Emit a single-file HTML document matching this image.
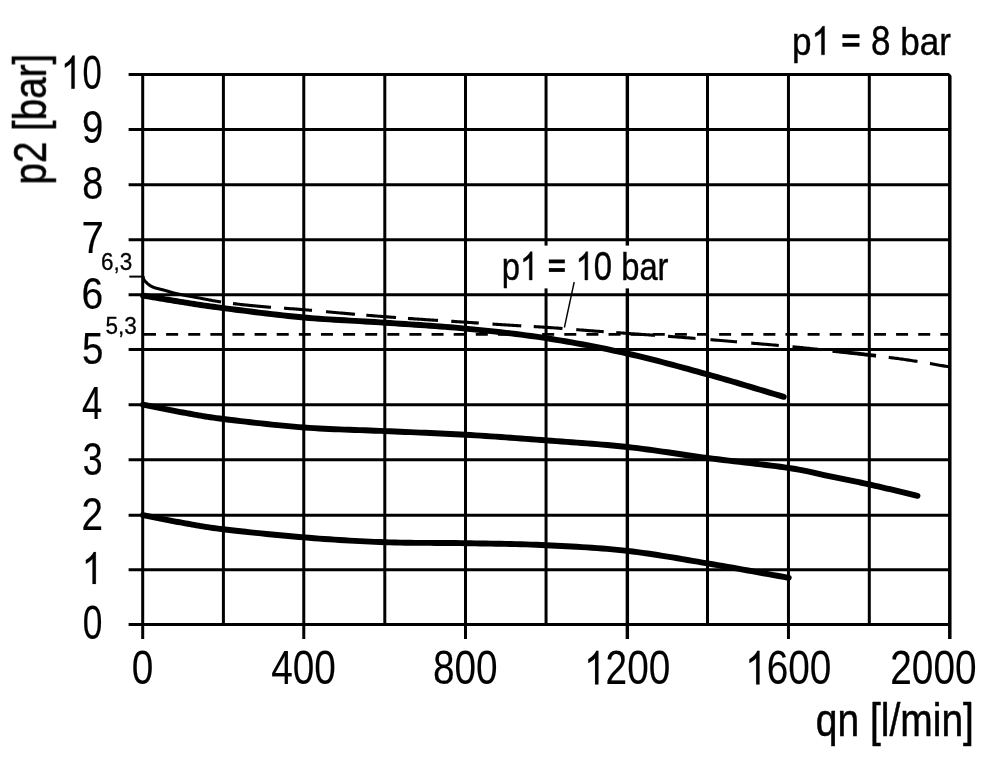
<!DOCTYPE html>
<html><head><meta charset="utf-8"><title>p2 / qn chart</title>
<style>
html,body{margin:0;padding:0;background:#fff;}
body{width:1000px;height:764px;overflow:hidden;font-family:"Liberation Sans",sans-serif;}
svg{display:block;filter:blur(0.45px);}
text{vector-effect:non-scaling-stroke;font-kerning:none;white-space:pre;}
</style></head><body>
<svg width="1000" height="764" viewBox="0 0 1000 764">
<rect width="1000" height="764" fill="#fff"/>
<g stroke="#000" stroke-width="3.0" fill="none" stroke-linecap="butt">
<line x1="142.70" y1="73.00" x2="142.70" y2="639.00" stroke-width="3.0"/>
<line x1="223.40" y1="73.00" x2="223.40" y2="624.55" stroke-width="3.0"/>
<line x1="303.77" y1="73.00" x2="303.77" y2="639.00" stroke-width="3.0"/>
<line x1="384.80" y1="73.00" x2="384.80" y2="624.55" stroke-width="3.0"/>
<line x1="465.50" y1="73.00" x2="465.50" y2="639.00" stroke-width="3.0"/>
<line x1="546.05" y1="73.00" x2="546.05" y2="624.55" stroke-width="3.0"/>
<line x1="627.35" y1="73.00" x2="627.35" y2="639.00" stroke-width="3.4"/>
<line x1="707.50" y1="73.00" x2="707.50" y2="624.55" stroke-width="3.0"/>
<line x1="788.45" y1="73.00" x2="788.45" y2="639.00" stroke-width="3.0"/>
<line x1="869.30" y1="73.00" x2="869.30" y2="624.55" stroke-width="3.0"/>
<line x1="949.80" y1="73.00" x2="949.80" y2="639.00" stroke-width="3.5"/>
<line x1="128.6" y1="624.55" x2="949.80" y2="624.55"/>
<line x1="128.6" y1="569.65" x2="949.80" y2="569.65"/>
<line x1="128.6" y1="515.15" x2="949.80" y2="515.15"/>
<line x1="128.6" y1="459.65" x2="949.80" y2="459.65"/>
<line x1="128.6" y1="404.65" x2="949.80" y2="404.65"/>
<line x1="128.6" y1="349.45" x2="949.80" y2="349.45"/>
<line x1="128.6" y1="294.70" x2="949.80" y2="294.70"/>
<line x1="128.6" y1="239.80" x2="949.80" y2="239.80"/>
<line x1="128.6" y1="184.80" x2="949.80" y2="184.80"/>
<line x1="128.6" y1="129.45" x2="949.80" y2="129.45"/>
<line x1="128.6" y1="74.50" x2="949.80" y2="74.50"/>
</g>
<polygon points="948.20,72.30 952.40,72.30 952.40,76.40" fill="#fff"/>
<line x1="144" y1="334.35" x2="949.80" y2="334.35" stroke="#000" stroke-width="2.8" stroke-dasharray="12 10.12"/>
<line x1="129.3" y1="276.6" x2="143" y2="276.6" stroke="#000" stroke-width="2"/>
<rect id="lblbox" x="499" y="245.6" width="174" height="42.8" fill="#fff"/>
<g stroke="#000" stroke-width="3.1" fill="none" stroke-linecap="butt" stroke-linejoin="round">
<path d="M143.00,276.40 L143.02,276.49 L143.05,276.57 L143.07,276.66 L143.09,276.75 L143.11,276.84 L143.13,276.93 L143.15,277.02 L143.17,277.11 L143.19,277.20 L143.21,277.29 L143.24,277.38 L143.26,277.47 L143.28,277.56 L143.30,277.65 L143.32,277.74 L143.34,277.83 L143.36,277.92 L143.38,278.00 L143.41,278.09 L143.43,278.18 L143.45,278.26 L143.48,278.35 L143.50,278.43 L143.53,278.52 L143.55,278.60 L143.58,278.68 L143.61,278.76 L143.64,278.84 L143.67,278.92 L143.70,279.00 L143.73,279.08 L143.76,279.15 L143.80,279.23 L143.83,279.30 L143.87,279.37 L143.90,279.44 L143.94,279.51 L143.97,279.58 L144.01,279.65 L144.04,279.72 L144.08,279.79 L144.12,279.86 L144.16,279.92 L144.20,279.99 L144.24,280.06 L144.28,280.12 L144.32,280.19 L144.36,280.25 L144.40,280.31 L144.44,280.38 L144.49,280.44 L144.53,280.50 L144.58,280.57 L144.62,280.63 L144.67,280.69 L144.71,280.75 L144.76,280.81 L144.80,280.88 L144.85,280.94 L144.90,281.00 L144.95,281.06 L145.00,281.12 L145.05,281.18 L145.10,281.24 L145.15,281.30 L145.20,281.36 L145.26,281.42 L145.31,281.47 L145.37,281.53 L145.42,281.59 L145.48,281.65 L145.53,281.70 L145.59,281.76 L145.65,281.81 L145.71,281.87 L145.76,281.92 L145.82,281.98 L145.88,282.03 L145.94,282.09 L146.00,282.14 L146.06,282.20 L146.12,282.25 L146.18,282.31 L146.24,282.36 L146.30,282.42 L146.36,282.48 L146.42,282.53 L146.48,282.59 L146.54,282.64 L146.60,282.70 L146.66,282.76 L146.72,282.81 L146.78,282.87 L146.84,282.93 L146.90,282.99 L146.96,283.04 L147.03,283.10 L147.09,283.16 L147.15,283.22 L147.21,283.27 L147.27,283.33 L147.34,283.39 L147.40,283.45 L147.46,283.50 L147.53,283.56 L147.59,283.62 L147.65,283.68 L147.72,283.73 L147.78,283.79 L147.84,283.85 L147.91,283.90 L147.97,283.96 L148.04,284.02 L148.10,284.07 L148.17,284.13 L148.24,284.18 L148.30,284.24 L148.37,284.29 L148.43,284.35 L148.50,284.40 L148.57,284.45 L148.63,284.51 L148.70,284.56 L148.76,284.61 L148.83,284.66 L148.89,284.71 L148.96,284.77 L149.02,284.82 L149.09,284.87 L149.16,284.92 L149.22,284.97 L149.29,285.02 L149.35,285.07 L149.42,285.12 L149.49,285.17 L149.56,285.22 L149.62,285.27 L149.69,285.32 L149.76,285.37 L149.83,285.41 L149.90,285.46 L149.98,285.51 L150.05,285.56 L150.13,285.61 L150.20,285.66 L150.28,285.71 L150.36,285.75 L150.44,285.80 L150.52,285.85 L150.60,285.90 L150.68,285.95 L150.77,286.00 L150.85,286.05 L150.94,286.09 L151.03,286.14 L151.12,286.19 L151.21,286.24 L151.30,286.29 L151.39,286.34 L151.49,286.39 L151.58,286.43 L151.67,286.48 L151.77,286.53 L151.87,286.58 L151.96,286.62 L152.06,286.67 L152.16,286.72 L152.26,286.77 L152.36,286.81 L152.46,286.86 L152.56,286.91 L152.66,286.95 L152.77,287.00 L152.87,287.04 L152.97,287.09 L153.08,287.13 L153.18,287.17 L153.29,287.22 L153.39,287.26 L153.50,287.30 L153.60,287.34 L153.71,287.38 L153.81,287.42 L153.90,287.45 L154.00,287.49 L154.09,287.52 L154.18,287.56 L154.27,287.59 L154.36,287.62 L154.46,287.66 L154.55,287.69 L154.64,287.72 L154.74,287.75 L154.83,287.78 L154.93,287.81 L155.03,287.84 L155.14,287.88 L155.25,287.91 L155.36,287.94 L155.48,287.98 L155.60,288.01 L155.73,288.05 L155.86,288.09 L156.00,288.13 L156.15,288.17 L156.30,288.21 L156.47,288.25 L156.63,288.30 L156.81,288.35 L157.00,288.40 L157.20,288.45 L157.40,288.51 L157.62,288.56 L157.84,288.62 L158.07,288.68 L158.31,288.74 L158.56,288.80 L158.81,288.86 L159.07,288.92 L159.33,288.99 L159.60,289.05 L159.88,289.12 L160.15,289.18 L160.43,289.25 L160.72,289.32 L161.01,289.39 L161.29,289.46 L161.58,289.53 L161.88,289.60 L162.17,289.67 L162.46,289.74 L162.75,289.81 L163.04,289.89 L163.33,289.96 L163.61,290.03 L163.90,290.11 L164.18,290.18 L164.46,290.25 L164.73,290.33 L165.00,290.40 L165.27,290.47 L165.53,290.55 L165.80,290.63 L166.07,290.70 L166.33,290.78 L166.60,290.86 L166.87,290.95 L167.13,291.03 L167.40,291.11 L167.67,291.19 L167.93,291.28 L168.20,291.36 L168.47,291.44 L168.73,291.53 L169.00,291.61 L169.27,291.70 L169.53,291.78 L169.80,291.86 L170.07,291.95 L170.33,292.03 L170.60,292.11 L170.87,292.19 L171.13,292.27 L171.40,292.35 L171.67,292.43 L171.93,292.51 L172.20,292.58 L172.47,292.66 L172.73,292.73 L173.00,292.80 L173.26,292.87 L173.52,292.94 L173.77,293.00 L174.01,293.06 L174.25,293.12 L174.49,293.18 L174.72,293.24 L174.95,293.30 L175.18,293.35 L175.41,293.41 L175.64,293.46 L175.86,293.52 L176.09,293.57 L176.33,293.62 L176.56,293.68 L176.80,293.73 L177.05,293.78 L177.30,293.84 L177.55,293.89 L177.81,293.95 L178.09,294.01 L178.36,294.06 L178.65,294.12 L178.95,294.19 L179.26,294.25 L179.58,294.31 L179.92,294.38 L180.26,294.45 L180.62,294.52 L181.00,294.60 L181.38,294.68 L181.77,294.75 L182.16,294.83 L182.55,294.91 L182.95,294.98 L183.35,295.06 L183.76,295.14 L184.17,295.22 L184.59,295.30 L185.02,295.38 L185.46,295.46 L185.90,295.55 L186.35,295.63 L186.82,295.72 L187.29,295.81 L187.77,295.90 L188.26,295.99 L188.77,296.08 L189.29,296.18 L189.82,296.27 L190.37,296.37 L190.93,296.48 L191.50,296.58 L192.09,296.69 L192.70,296.80 L193.33,296.91 L193.97,297.03 L194.63,297.15 L195.30,297.27 L196.00,297.40 L196.72,297.53 L197.45,297.67 L198.20,297.81 L198.96,297.95 L199.74,298.10 L200.54,298.26 L201.35,298.42 L202.18,298.58 L203.02,298.74 L203.87,298.91 L204.74,299.08 L205.63,299.25 L206.52,299.42 L207.43,299.59 L208.35,299.77 L209.28,299.94 L210.23,300.12 L211.18,300.30 L212.15,300.47 L213.13,300.65 L214.11,300.82 L215.11,301.00 L216.12,301.17 L217.13,301.34 L218.16,301.51 L219.19,301.67 L220.23,301.83 L221.00,301.95"/>
<path d="M233.00,303.56 L233.47,303.61 L234.64,303.76 L235.83,303.90 L237.02,304.04 L238.23,304.17 L239.44,304.31 L240.66,304.45 L241.89,304.59 L243.14,304.72 L244.39,304.86 L245.64,304.99 L246.91,305.12 L248.19,305.25 L249.47,305.38 L250.76,305.51 L252.06,305.64 L253.37,305.77 L254.68,305.90 L256.00,306.03 L257.33,306.15 L258.66,306.28 L260.00,306.40 L261.35,306.52 L262.72,306.64 L264.11,306.76 L265.52,306.88 L266.94,306.99 L268.37,307.10 L269.82,307.22 L271.00,307.31"/>
<path d="M284.00,308.23 L284.75,308.28 L286.26,308.39 L287.77,308.49 L289.28,308.60 L290.79,308.71 L292.29,308.81 L293.78,308.92 L295.27,309.03 L296.75,309.14 L298.23,309.25 L299.69,309.36 L301.14,309.47 L302.58,309.58 L304.00,309.70 L305.41,309.82 L306.82,309.94 L308.23,310.06 L309.62,310.18 L311.02,310.30 L312.00,310.38"/>
<path d="M326.00,311.67 L326.11,311.68 L327.46,311.80 L328.82,311.93 L330.17,312.06 L331.52,312.18 L332.87,312.31 L334.22,312.43 L335.56,312.56 L336.91,312.68 L338.26,312.80 L339.61,312.92 L340.95,313.04 L342.30,313.16 L343.65,313.28 L345.00,313.40 L346.35,313.52 L347.70,313.63 L349.04,313.75 L350.38,313.86 L351.72,313.98 L353.06,314.09 L354.40,314.21 L355.00,314.26"/>
<path d="M366.30,315.20 L366.39,315.21 L367.72,315.32 L369.05,315.43 L370.38,315.54 L371.70,315.64 L373.03,315.75 L374.36,315.86 L375.69,315.97 L377.02,316.07 L378.34,316.18 L379.67,316.28 L381.00,316.39 L382.34,316.49 L383.67,316.60 L385.00,316.70 L386.33,316.80 L387.67,316.91 L389.00,317.01 L390.33,317.11 L391.66,317.21 L392.99,317.31 L394.32,317.41 L395.65,317.51 L396.00,317.54"/>
<path d="M408.00,318.41 L408.96,318.48 L410.30,318.58 L411.63,318.67 L412.96,318.76 L414.30,318.86 L415.63,318.95 L416.97,319.05 L418.30,319.14 L419.64,319.23 L420.98,319.32 L422.32,319.42 L423.66,319.51 L425.00,319.60 L426.34,319.69 L427.69,319.78 L429.03,319.87 L430.38,319.96 L431.73,320.05 L433.08,320.14 L434.44,320.23 L435.79,320.31 L437.14,320.40 L438.00,320.45"/>
<path d="M451.25,321.29 L452.06,321.34 L453.41,321.42 L454.76,321.51 L456.11,321.59 L457.46,321.68 L458.80,321.76 L460.15,321.85 L461.49,321.94 L462.83,322.02 L464.17,322.11 L465.50,322.20 L466.83,322.29 L468.16,322.38 L469.48,322.47 L470.81,322.56 L472.12,322.65 L473.44,322.74 L474.75,322.83 L476.07,322.92 L477.38,323.01 L478.69,323.10 L478.75,323.11"/>
<path d="M492.50,324.07 L493.07,324.11 L494.39,324.20 L495.70,324.29 L497.02,324.38 L498.34,324.47 L499.67,324.55 L500.99,324.64 L502.33,324.73 L503.66,324.81 L505.00,324.90 L506.34,324.98 L507.68,325.07 L509.03,325.15 L510.37,325.23 L511.71,325.31 L513.06,325.38 L514.40,325.46 L515.75,325.54 L517.10,325.61 L518.44,325.69 L519.80,325.76 L521.15,325.83 L521.25,325.84"/>
<path d="M533.75,326.53 L534.81,326.60 L536.20,326.68 L537.58,326.76 L538.98,326.85 L540.37,326.93 L541.77,327.02 L543.18,327.11 L544.59,327.20 L546.00,327.30 L547.42,327.40 L548.86,327.50 L550.31,327.60 L551.77,327.71 L553.23,327.82 L554.71,327.93 L556.20,328.04 L557.69,328.15 L559.18,328.27 L560.69,328.39 L562.19,328.50 L562.50,328.53"/>
<path d="M576.25,329.63 L577.18,329.70 L578.65,329.82 L580.12,329.93 L581.57,330.05 L583.01,330.16 L584.44,330.27 L585.85,330.38 L587.25,330.49 L588.63,330.60 L590.00,330.70 L591.35,330.80 L592.68,330.90 L594.00,331.00 L595.30,331.09 L596.59,331.19 L597.87,331.28 L599.13,331.37 L600.39,331.46 L601.63,331.56 L602.87,331.64 L603.75,331.71"/>
<path d="M616.25,332.60 L617.45,332.68 L618.68,332.77 L619.91,332.86 L621.15,332.95 L622.40,333.04 L623.66,333.13 L624.93,333.22 L626.21,333.31 L627.50,333.40 L628.80,333.49 L630.11,333.59 L631.43,333.68 L632.76,333.78 L634.09,333.87 L635.42,333.96 L636.77,334.06 L638.11,334.15 L639.46,334.25 L640.81,334.34 L642.17,334.44 L643.53,334.54 L644.89,334.63 L646.26,334.73 L647.62,334.82 L648.99,334.92 L650.36,335.02 L651.73,335.12 L653.10,335.21 L654.46,335.31 L655.00,335.35"/>
<path d="M668.00,336.30 L669.33,336.40 L670.66,336.50 L671.98,336.60 L673.29,336.70 L674.61,336.80 L675.92,336.90 L677.22,337.00 L678.53,337.10 L679.83,337.20 L681.13,337.30 L682.43,337.40 L683.73,337.50 L685.03,337.60 L686.33,337.70 L687.62,337.81 L688.93,337.91 L690.23,338.01 L691.53,338.11 L692.84,338.22 L694.15,338.32 L695.46,338.43 L695.50,338.43"/>
<path d="M710.50,339.65 L711.65,339.74 L713.05,339.86 L714.46,339.97 L715.88,340.09 L717.30,340.21 L718.74,340.33 L720.17,340.45 L721.61,340.57 L723.05,340.70 L724.50,340.82 L725.95,340.94 L727.40,341.06 L728.84,341.19 L730.29,341.31 L731.74,341.43 L733.18,341.56 L734.62,341.68 L736.06,341.80 L737.00,341.88"/>
<path d="M751.25,343.11 L751.33,343.11 L752.66,343.23 L753.96,343.34 L755.26,343.45 L756.55,343.56 L757.82,343.66 L759.09,343.77 L760.35,343.88 L761.60,343.98 L762.85,344.09 L764.09,344.19 L765.33,344.29 L766.57,344.40 L767.80,344.50 L769.03,344.61 L770.26,344.71 L771.49,344.82 L772.73,344.92 L773.96,345.03 L775.20,345.14 L776.45,345.25 L777.70,345.36 L778.75,345.45"/>
<path d="M792.50,346.73 L793.42,346.82 L794.80,346.96 L796.18,347.09 L797.58,347.23 L798.98,347.37 L800.38,347.51 L801.80,347.66 L803.21,347.80 L804.63,347.94 L806.05,348.09 L807.48,348.23 L808.91,348.38 L810.33,348.53 L811.76,348.68 L813.19,348.82 L814.61,348.97 L816.04,349.12 L817.46,349.27 L818.87,349.42 L820.29,349.57 L821.00,349.64"/>
<path d="M832.50,350.87 L832.70,350.89 L834.05,351.03 L835.38,351.17 L836.72,351.32 L838.04,351.46 L839.37,351.60 L840.69,351.74 L842.00,351.88 L843.31,352.03 L844.62,352.17 L845.93,352.31 L847.24,352.45 L848.54,352.59 L849.84,352.74 L851.15,352.88 L852.45,353.03 L853.75,353.17 L855.05,353.32 L856.35,353.46 L857.66,353.61 L858.96,353.76 L860.27,353.91 L861.58,354.06 L862.89,354.21 L864.20,354.37 L865.52,354.52 L866.84,354.68 L868.17,354.84 L869.50,355.00 L870.83,355.16 L872.17,355.32 L873.51,355.49 L874.85,355.65 L876.00,355.79" stroke-width="3.8"/>
<path d="M888.75,357.38 L889.72,357.51 L891.08,357.68 L892.43,357.86 L893.79,358.04 L895.14,358.22 L896.50,358.40 L897.86,358.58 L899.21,358.76 L900.56,358.95 L901.92,359.14 L903.27,359.33 L904.62,359.52 L905.97,359.71 L907.31,359.90 L908.66,360.10 L910.00,360.30 L911.34,360.50 L912.68,360.71 L914.02,360.91 L915.36,361.12 L916.70,361.34 L917.50,361.46"/>
<path d="M930.00,363.56 L930.03,363.56 L931.36,363.79 L932.69,364.02 L934.02,364.25 L935.35,364.48 L936.69,364.71 L938.02,364.95 L939.35,365.18 L940.68,365.41 L942.01,365.64 L943.34,365.87 L944.67,366.10 L946.00,366.32 L947.33,366.55 L948.67,366.78 L950.00,367.00"/>
</g>
<g stroke="#000" stroke-width="5.9" fill="none" stroke-linecap="round" stroke-linejoin="round">
<path d="M143.00,295.60 L145.50,296.01 L148.00,296.43 L150.50,296.85 L152.99,297.27 L155.49,297.69 L157.99,298.11 L160.48,298.53 L162.98,298.94 L165.48,299.36 L167.98,299.78 L170.48,300.19 L172.98,300.60 L175.48,301.01 L177.99,301.41 L180.49,301.81 L183.00,302.20 L185.44,302.58 L187.75,302.95 L189.96,303.30 L192.11,303.64 L194.22,303.98 L196.32,304.31 L198.44,304.64 L200.61,304.97 L202.86,305.31 L205.22,305.66 L207.71,306.02 L210.38,306.40 L213.24,306.79 L216.33,307.20 L219.67,307.64 L223.30,308.10 L227.23,308.60 L231.45,309.14 L235.93,309.71 L240.63,310.30 L245.53,310.92 L250.59,311.55 L255.79,312.20 L261.11,312.84 L266.50,313.49 L271.94,314.13 L277.40,314.76 L282.86,315.36 L288.27,315.95 L293.62,316.50 L298.87,317.02 L304.00,317.50 L309.06,317.94 L314.11,318.35 L319.18,318.72 L324.24,319.08 L329.31,319.41 L334.38,319.73 L339.44,320.03 L344.51,320.32 L349.58,320.60 L354.65,320.88 L359.71,321.16 L364.78,321.45 L369.84,321.74 L374.90,322.05 L379.95,322.36 L385.00,322.70 L390.04,323.04 L395.08,323.38 L400.12,323.71 L405.15,324.04 L410.18,324.37 L415.21,324.70 L420.24,325.03 L425.27,325.38 L430.29,325.72 L435.32,326.09 L440.34,326.46 L445.37,326.85 L450.40,327.25 L455.43,327.68 L460.46,328.13 L465.50,328.60 L470.54,329.09 L475.58,329.58 L480.62,330.09 L485.66,330.60 L490.70,331.13 L495.74,331.67 L500.78,332.23 L505.83,332.81 L510.87,333.40 L515.92,334.01 L520.97,334.65 L526.02,335.31 L531.07,335.99 L536.13,336.70 L541.19,337.43 L546.25,338.20 L551.32,338.99 L556.39,339.81 L561.47,340.65 L566.56,341.52 L571.65,342.40 L576.74,343.31 L581.83,344.25 L586.92,345.20 L592.01,346.18 L597.10,347.17 L602.18,348.19 L607.26,349.23 L612.34,350.30 L617.40,351.38 L622.46,352.48 L627.50,353.60 L632.54,354.75 L637.59,355.93 L642.63,357.14 L647.68,358.38 L652.72,359.65 L657.76,360.93 L662.79,362.24 L667.81,363.56 L672.83,364.90 L677.83,366.25 L682.82,367.60 L687.79,368.96 L692.75,370.32 L697.69,371.69 L702.61,373.05 L707.50,374.40 L712.37,375.76 L717.21,377.12 L722.03,378.50 L726.83,379.89 L731.61,381.28 L736.37,382.68 L741.12,384.09 L745.86,385.50 L750.59,386.91 L755.32,388.33 L760.05,389.75 L764.78,391.16 L769.51,392.58 L774.24,393.99 L778.99,395.40 L783.75,396.80"/>
<path d="M143.00,404.70 L145.50,405.19 L148.00,405.68 L150.50,406.18 L152.99,406.68 L155.49,407.18 L157.99,407.68 L160.48,408.18 L162.98,408.68 L165.48,409.18 L167.98,409.67 L170.48,410.16 L172.98,410.64 L175.48,411.12 L177.99,411.59 L180.49,412.05 L183.00,412.50 L185.44,412.94 L187.75,413.36 L189.96,413.77 L192.11,414.17 L194.22,414.56 L196.32,414.94 L198.44,415.33 L200.61,415.71 L202.86,416.09 L205.22,416.47 L207.71,416.86 L210.38,417.26 L213.24,417.68 L216.33,418.10 L219.67,418.54 L223.30,419.00 L227.23,419.49 L231.45,420.00 L235.93,420.54 L240.63,421.10 L245.53,421.67 L250.59,422.26 L255.79,422.84 L261.11,423.43 L266.50,424.01 L271.94,424.58 L277.40,425.14 L282.86,425.67 L288.27,426.18 L293.62,426.66 L298.87,427.10 L304.00,427.50 L309.06,427.86 L314.11,428.18 L319.18,428.48 L324.24,428.74 L329.31,428.99 L334.38,429.21 L339.44,429.41 L344.51,429.60 L349.58,429.79 L354.65,429.96 L359.71,430.14 L364.78,430.31 L369.84,430.49 L374.90,430.68 L379.95,430.88 L385.00,431.10 L390.04,431.32 L395.08,431.54 L400.12,431.75 L405.15,431.96 L410.18,432.17 L415.21,432.38 L420.24,432.59 L425.27,432.80 L430.29,433.01 L435.32,433.23 L440.34,433.46 L445.37,433.70 L450.40,433.94 L455.43,434.20 L460.46,434.47 L465.50,434.75 L470.54,435.05 L475.58,435.35 L480.62,435.67 L485.66,436.00 L490.70,436.34 L495.74,436.68 L500.78,437.03 L505.83,437.39 L510.87,437.75 L515.92,438.12 L520.97,438.50 L526.02,438.87 L531.07,439.25 L536.13,439.63 L541.19,440.02 L546.25,440.40 L551.32,440.78 L556.39,441.15 L561.47,441.52 L566.56,441.88 L571.65,442.24 L576.74,442.61 L581.83,442.98 L586.92,443.37 L592.01,443.76 L597.10,444.16 L602.18,444.58 L607.26,445.02 L612.34,445.48 L617.40,445.96 L622.46,446.46 L627.50,447.00 L632.53,447.57 L637.55,448.17 L642.56,448.81 L647.56,449.47 L652.56,450.15 L657.55,450.85 L662.53,451.57 L667.52,452.29 L672.50,453.03 L677.48,453.76 L682.47,454.50 L687.46,455.22 L692.46,455.94 L697.46,456.65 L702.47,457.33 L707.50,458.00 L712.61,458.65 L717.85,459.30 L723.20,459.95 L728.63,460.59 L734.10,461.23 L739.58,461.87 L745.05,462.50 L750.47,463.13 L755.81,463.75 L761.05,464.36 L766.14,464.97 L771.07,465.57 L775.80,466.16 L780.31,466.75 L784.55,467.33 L788.50,467.90 L792.14,468.46 L795.50,469.00 L798.60,469.54 L801.47,470.06 L804.15,470.58 L806.65,471.09 L809.02,471.59 L811.28,472.09 L813.46,472.59 L815.59,473.09 L817.70,473.58 L819.82,474.08 L821.98,474.57 L824.21,475.08 L826.54,475.59 L829.00,476.10 L831.52,476.61 L834.01,477.12 L836.49,477.62 L838.95,478.12 L841.40,478.61 L843.86,479.11 L846.32,479.61 L848.78,480.11 L851.26,480.61 L853.76,481.13 L856.29,481.65 L858.85,482.19 L861.44,482.74 L864.08,483.31 L866.76,483.89 L869.50,484.50 L872.29,485.13 L875.14,485.77 L878.04,486.44 L880.97,487.12 L883.95,487.82 L886.95,488.53 L889.98,489.24 L893.03,489.97 L896.10,490.70 L899.17,491.44 L902.25,492.17 L905.32,492.91 L908.39,493.64 L911.45,494.37 L914.49,495.09 L917.50,495.80"/>
<path d="M143.00,515.10 L145.50,515.59 L148.00,516.08 L150.50,516.58 L152.99,517.08 L155.49,517.59 L157.99,518.09 L160.48,518.59 L162.98,519.09 L165.48,519.59 L167.98,520.08 L170.48,520.57 L172.98,521.05 L175.48,521.53 L177.99,521.99 L180.49,522.45 L183.00,522.90 L185.44,523.33 L187.75,523.75 L189.96,524.15 L192.11,524.55 L194.22,524.93 L196.32,525.31 L198.44,525.68 L200.61,526.05 L202.86,526.43 L205.22,526.80 L207.71,527.18 L210.38,527.57 L213.24,527.97 L216.33,528.38 L219.67,528.81 L223.30,529.25 L227.23,529.72 L231.45,530.21 L235.93,530.71 L240.63,531.24 L245.53,531.77 L250.59,532.32 L255.79,532.87 L261.11,533.42 L266.50,533.97 L271.94,534.51 L277.40,535.04 L282.86,535.55 L288.27,536.05 L293.62,536.53 L298.87,536.98 L304.00,537.40 L309.06,537.80 L314.11,538.19 L319.18,538.57 L324.24,538.94 L329.31,539.29 L334.38,539.63 L339.44,539.96 L344.51,540.27 L349.58,540.58 L354.65,540.86 L359.71,541.13 L364.78,541.39 L369.84,541.63 L374.90,541.85 L379.95,542.06 L385.00,542.25 L390.04,542.41 L395.08,542.55 L400.12,542.65 L405.15,542.74 L410.18,542.80 L415.21,542.85 L420.24,542.88 L425.27,542.90 L430.29,542.92 L435.32,542.94 L440.34,542.96 L445.37,542.98 L450.40,543.01 L455.43,543.06 L460.46,543.12 L465.50,543.20 L470.54,543.29 L475.58,543.37 L480.62,543.46 L485.66,543.54 L490.70,543.62 L495.74,543.71 L500.78,543.80 L505.83,543.90 L510.87,544.01 L515.92,544.13 L520.97,544.27 L526.02,544.42 L531.07,544.58 L536.13,544.77 L541.19,544.97 L546.25,545.20 L551.32,545.44 L556.39,545.69 L561.47,545.94 L566.56,546.21 L571.65,546.48 L576.74,546.77 L581.83,547.07 L586.92,547.39 L592.01,547.74 L597.10,548.10 L602.18,548.49 L607.26,548.91 L612.34,549.36 L617.40,549.84 L622.46,550.35 L627.50,550.90 L632.53,551.49 L637.55,552.12 L642.56,552.80 L647.56,553.50 L652.55,554.24 L657.54,555.01 L662.52,555.80 L667.50,556.61 L672.48,557.43 L677.46,558.27 L682.45,559.13 L687.44,559.98 L692.44,560.84 L697.45,561.70 L702.47,562.55 L707.50,563.40 L712.54,564.25 L717.60,565.11 L722.66,565.98 L727.72,566.87 L732.80,567.76 L737.88,568.66 L742.96,569.57 L748.05,570.48 L753.14,571.40 L758.23,572.32 L763.32,573.24 L768.41,574.16 L773.50,575.07 L778.59,575.99 L783.67,576.90 L788.75,577.80"/>
</g>
<line x1="574.2" y1="282" x2="564.4" y2="327.5" stroke="#000" stroke-width="1.4"/>
<g font-family="'Liberation Sans', sans-serif" fill="#000" stroke="#000" stroke-width="0.8" stroke-linejoin="round" opacity="0.999">
<g id="y10">
<g id="y10a" transform="translate(60.80,88.65)" stroke-width="0.2"><path transform="translate(0.00,0) scale(0.01815,-0.02253)" d="M763 0H583V1147Q518 1085 412.5 1023T223 930V1104Q374 1175 487 1276T647 1469H763Z" vector-effect="non-scaling-stroke"/></g>
<g id="y10b" transform="translate(82.49,88.69)" stroke-width="0.2"><text transform="translate(0.00,0) scale(0.7389,1.0127)" font-size="47">0</text></g>
</g>
<g id="y9" transform="translate(82.05,143.40)" stroke-width="0.2"><text transform="translate(0.00,0) scale(0.8153,0.9857)" font-size="47">9</text></g>
<g id="y8" transform="translate(82.21,199.39)" stroke-width="0.2"><text transform="translate(0.00,0) scale(0.8026,0.9992)" font-size="47">8</text></g>
<g id="y7" transform="translate(81.39,253.30)" stroke-width="0.2"><text transform="translate(0.00,0) scale(0.8565,0.9324)" font-size="47">7</text></g>
<g id="y6" transform="translate(81.47,309.21)" stroke-width="0.2"><text transform="translate(0.00,0) scale(0.8300,0.9526)" font-size="47">6</text></g>
<g id="y5" transform="translate(81.90,364.21)" stroke-width="0.2"><text transform="translate(0.00,0) scale(0.8212,0.9514)" font-size="47">5</text></g>
<g id="y4" transform="translate(81.92,418.95)" stroke-width="0.2"><text transform="translate(0.00,0) scale(0.7727,0.9989)" font-size="47">4</text></g>
<g id="y3" transform="translate(82.79,474.54)" stroke-width="0.2"><text transform="translate(0.00,0) scale(0.7584,0.9947)" font-size="47">3</text></g>
<g id="y2" transform="translate(81.51,529.65)" stroke-width="0.2"><text transform="translate(0.00,0) scale(0.8220,0.9964)" font-size="47">2</text></g>
<g id="y1" transform="translate(81.72,583.95)" stroke-width="0.2"><path transform="translate(0.00,0) scale(0.01852,-0.02178)" d="M763 0H583V1147Q518 1085 412.5 1023T223 930V1104Q374 1175 487 1276T647 1469H763Z" vector-effect="non-scaling-stroke"/></g>
<g id="y0" transform="translate(82.77,639.19)" stroke-width="0.2"><text transform="translate(0.00,0) scale(0.7522,1.0037)" font-size="47">0</text></g>
<g id="x0" transform="translate(131.72,684.40)" stroke-width="0.12"><text transform="translate(0.00,0) scale(0.825,1.0400)" font-size="47">0</text></g>
<g id="x1" transform="translate(271.22,684.40)" stroke-width="0.12"><text transform="translate(0.00,0) scale(0.825,1.0400)" font-size="47">400</text></g>
<g id="x2" transform="translate(432.95,684.40)" stroke-width="0.12"><text transform="translate(0.00,0) scale(0.825,1.0400)" font-size="47">800</text></g>
<g id="x3" transform="translate(584.02,684.40)" stroke-width="0.12"><path transform="translate(0.00,0) scale(0.01893,-0.02289)" d="M763 0H583V1147Q518 1085 412.5 1023T223 930V1104Q374 1175 487 1276T647 1469H763Z" vector-effect="non-scaling-stroke"/><text transform="translate(21.56,0) scale(0.825,1.0400)" font-size="47">200</text></g>
<g id="x4" transform="translate(745.12,684.40)" stroke-width="0.12"><path transform="translate(0.00,0) scale(0.01893,-0.02289)" d="M763 0H583V1147Q518 1085 412.5 1023T223 930V1104Q374 1175 487 1276T647 1469H763Z" vector-effect="non-scaling-stroke"/><text transform="translate(21.56,0) scale(0.825,1.0400)" font-size="47">600</text></g>
<g id="x5" transform="translate(890.27,684.40)" stroke-width="0.12"><text transform="translate(0.00,0) scale(0.825,1.0400)" font-size="47">2000</text></g>
<g id="qn" transform="translate(815.71,735.70)" stroke-width="0.5"><text transform="translate(0.00,0) scale(0.83,0.9720)" font-size="47">qn&#160;[l/min]</text></g>
<g id="p2" transform="translate(45.90,184.53) rotate(-90)" stroke-width="0.5"><text transform="translate(0.00,0) scale(0.82,0.9750)" font-size="47">p</text><text transform="translate(21.43,0) scale(0.82,1.0000)" font-size="47">2</text><text transform="translate(42.87,0) scale(0.82,0.9750)" font-size="47">&#160;[bar]</text></g>
<g id="p8" transform="translate(791.94,54.80)" stroke-width="0.4"><text transform="translate(0.00,0) scale(0.877,0.9700)" font-size="40">p</text><path transform="translate(19.51,0) scale(0.01713,-0.01948)" d="M763 0H583V1147Q518 1085 412.5 1023T223 930V1104Q374 1175 487 1276T647 1469H763Z" vector-effect="non-scaling-stroke"/><text transform="translate(39.02,0) scale(0.877,0.9700)" font-size="40">&#160;</text><rect x="50.48" y="-20.50" width="17.04" height="3.80" stroke="none"/><rect x="50.48" y="-11.90" width="17.04" height="3.80" stroke="none"/><text transform="translate(69.25,0) scale(0.877,0.9700)" font-size="40">&#160;</text><text transform="translate(79.00,0) scale(0.877,1.0400)" font-size="40">8</text><text transform="translate(98.51,0) scale(0.877,0.9700)" font-size="40">&#160;bar</text></g>
<g id="p10" transform="translate(501.69,280.00)" stroke-width="0.4"><text transform="translate(0.00,0) scale(0.82,0.9700)" font-size="40">p</text><path transform="translate(18.24,0) scale(0.01602,-0.01930)" d="M763 0H583V1147Q518 1085 412.5 1023T223 930V1104Q374 1175 487 1276T647 1469H763Z" vector-effect="non-scaling-stroke"/><text transform="translate(36.48,0) scale(0.82,0.9700)" font-size="40">&#160;</text><rect x="47.20" y="-20.50" width="15.94" height="3.80" stroke="none"/><rect x="47.20" y="-11.90" width="15.94" height="3.80" stroke="none"/><text transform="translate(64.75,0) scale(0.82,0.9700)" font-size="40">&#160;</text><path transform="translate(73.86,0) scale(0.01602,-0.01930)" d="M763 0H583V1147Q518 1085 412.5 1023T223 930V1104Q374 1175 487 1276T647 1469H763Z" vector-effect="non-scaling-stroke"/><text transform="translate(92.11,0) scale(0.82,1.0300)" font-size="40">0</text><text transform="translate(110.35,0) scale(0.82,0.9700)" font-size="40">&#160;bar</text></g>
<g id="t63" transform="translate(101.11,269.60)" stroke-width="0.3"><text transform="translate(0.00,0) scale(1.0,1.0400)" font-size="22.5">6</text><text transform="translate(12.51,0) scale(1.0,1.0000)" font-size="22.5">,</text><text transform="translate(18.76,0) scale(1.0,1.0400)" font-size="22.5">3</text></g>
<g id="t53" transform="translate(105.55,333.60)" stroke-width="0.3"><text transform="translate(0.00,0) scale(1.0,1.0400)" font-size="22.5">5</text><text transform="translate(12.51,0) scale(1.0,1.0000)" font-size="22.5">,</text><text transform="translate(18.76,0) scale(1.0,1.0400)" font-size="22.5">3</text></g>
</g>
</svg>
</body></html>
